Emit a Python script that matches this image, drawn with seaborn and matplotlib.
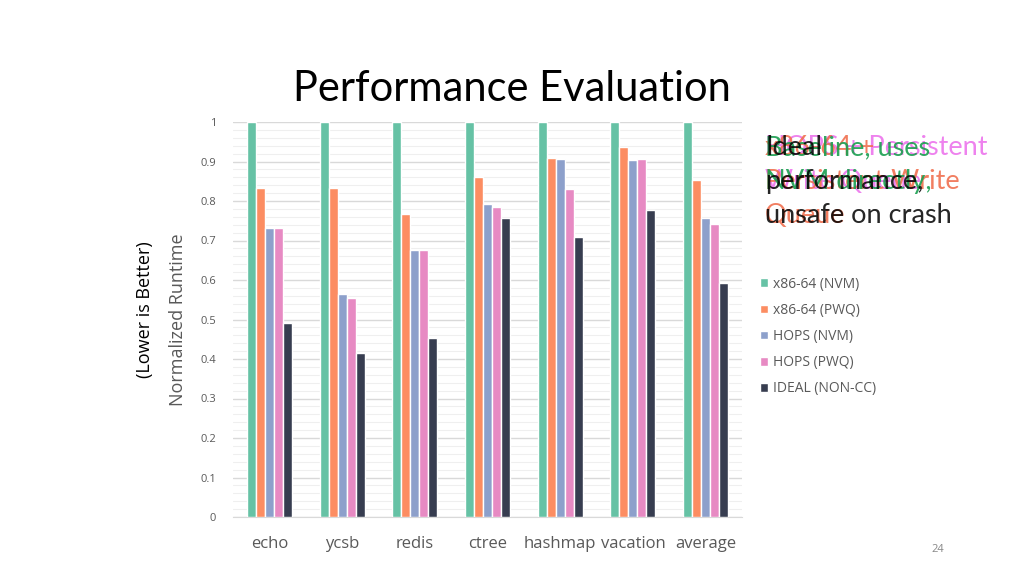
import matplotlib
matplotlib.use('Agg')
import matplotlib.pyplot as plt
import seaborn as sns
import pandas as pd
from matplotlib.ticker import MultipleLocator

# Benchmarks and series
benchmarks = ['echo', 'ycsb', 'redis', 'ctree', 'hashmap', 'vacation', 'average']
series = ['x86-64 (NVM)', 'x86-64 (PWQ)', 'HOPS (NVM)', 'HOPS (PWQ)', 'IDEAL (NON-CC)']
x86_nvm = [1, 1, 1, 1, 1, 1, 1]
x86_pwq = [0.832, 0.832, 0.767, 0.861, 0.909, 0.937, 0.852]
hops_nvm = [0.731, 0.565, 0.675, 0.792, 0.906, 0.905, 0.756]
hops_pwq = [0.731, 0.554, 0.675, 0.785, 0.830, 0.907, 0.742]
ideal = [0.490, 0.414, 0.452, 0.757, 0.709, 0.778, 0.592]
colors = ['#66c2a5', '#fc8d62', '#8da0cb', '#e78ac3', '#373d50']

# Long format table for seaborn
values = [x86_nvm, x86_pwq, hops_nvm, hops_pwq, ideal]
rows = []
for s, vals in zip(series, values):
    for b, v in zip(benchmarks, vals):
        rows.append({'benchmark': b, 'series': s, 'runtime': v})
df = pd.DataFrame(rows)

sns.set_style('white')
plt.rcParams['font.family'] = ['Open Sans', 'DejaVu Sans']

fig = plt.figure(figsize=(10.24, 5.76), dpi=100)
ax = fig.add_axes([233 / 1024, 1 - 517 / 576, 509 / 1024, 395 / 576])

sns.barplot(data=df, x='benchmark', y='runtime', hue='series', palette=colors,
            width=0.62, saturation=1, ax=ax, zorder=3)

ax.set_ylim(0, 1)
ax.yaxis.set_major_locator(MultipleLocator(0.1))
ax.yaxis.set_minor_locator(MultipleLocator(0.02))
ax.grid(which='major', axis='y', color='#d9d9d9', linewidth=1, zorder=0)
ax.grid(which='minor', axis='y', color='#efefef', linewidth=0.8, zorder=0)
ax.set_yticks([i / 10 for i in range(11)])
ax.set_yticklabels(['0', '0.1', '0.2', '0.3', '0.4', '0.5', '0.6', '0.7', '0.8', '0.9', '1'])
ax.tick_params(axis='y', labelsize=8, colors='#595959', length=0, pad=12)
ax.tick_params(axis='x', labelsize=12, colors='#595959', length=0, pad=14)
for sp in ['top', 'right', 'left']:
    ax.spines[sp].set_visible(False)
ax.spines['bottom'].set_color('#d9d9d9')
ax.set_xlabel('')
ax.set_ylabel('Normalized Runtime', fontsize=13, color='#595959', labelpad=10)

# Legend to the right
handles, labels = ax.get_legend_handles_labels()
ax.legend(handles, labels, loc='upper left', bbox_to_anchor=(1.01, 0.64),
          frameon=False, fontsize=10, labelcolor='#595959', handlelength=0.6,
          handleheight=0.6, handletextpad=0.4, labelspacing=0.8)

fig.text(145 / 1024, 1 - 310 / 576, '(Lower is Better)', rotation=90, fontsize=13,
         ha='center', va='center', color='black')

# Title
fig.text(512 / 1024, 1 - 89 / 576, 'Performance Evaluation', fontsize=30,
         family=['Lato', 'DejaVu Sans'], ha='center', va='center', color='black')

# Overlapping annotation texts (animation frames)
tx, ty = 765 / 1024, 1 - 135 / 576
kw = dict(fontsize=19.5, family=['Lato', 'DejaVu Sans'], va='top', ha='left', linespacing=1.45)
fig.text(tx, ty, 'HOPS + Persistent\nWrite Queue', color='#ee82ee', **kw)
fig.text(tx, ty, 'x86-64 + \nPersistent Write\nQueue', color='#f07050', alpha=0.9, **kw)
fig.text(tx, ty, 'Baseline, uses\nNVM directly,', color='#1a9e50', alpha=0.9, **kw)
fig.text(tx, ty, 'Ideal\nperformance,\nunsafe on crash', color='black', alpha=0.85, **kw)

fig.text(938 / 1024, 1 - 549 / 576, '24', fontsize=8, color='#888888', ha='center', va='center')

fig.savefig('out.png', dpi=100)
